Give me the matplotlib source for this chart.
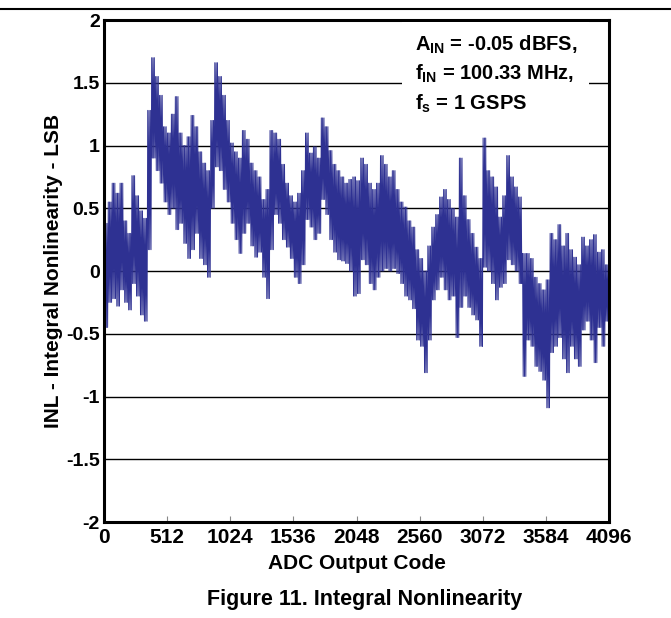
import numpy as np
import matplotlib
matplotlib.use("Agg")
import matplotlib.pyplot as plt
from matplotlib.lines import Line2D

plt.rcParams['font.family'] = ['Liberation Sans', 'DejaVu Sans']
plt.rcParams['font.weight'] = 'bold'
plt.rcParams['mathtext.fontset'] = 'custom'
plt.rcParams['mathtext.rm'] = 'Liberation Sans:bold'
plt.rcParams['mathtext.bf'] = 'Liberation Sans:bold'

# INL envelope, one pair per 32-code bin (LSB)
bin_width = 32
inl_high = [
    0.38, 0.55, 0.70, 0.62, 0.70, 0.40, 0.30, 0.76, 0.60, 0.48,
    0.42, 1.28, 1.70, 1.55, 1.40, 1.15, 1.10, 1.25, 1.39, 1.10,
    1.00, 1.07, 1.24, 1.15, 0.95, 0.86, 0.80, 1.20, 1.66, 1.55,
    1.40, 1.20, 1.02, 0.95, 0.90, 1.12, 1.05, 0.86, 0.80, 0.75,
    0.57, 0.65, 1.12, 1.10, 1.05, 0.85, 0.70, 0.60, 0.55, 0.62,
    0.80, 1.10, 0.94, 0.99, 0.90, 1.22, 1.15, 0.96, 0.85, 0.80,
    0.75, 0.70, 0.73, 0.75, 0.72, 0.90, 0.85, 0.70, 0.65, 0.70,
    0.92, 0.85, 0.75, 0.80, 0.65, 0.55, 0.51, 0.40, 0.35, 0.17,
    0.10, 0.00, 0.20, 0.35, 0.45, 0.59, 0.65, 0.57, 0.50, 0.43,
    0.90, 0.60, 0.41, 0.30, 0.19, 0.10, 1.06, 0.80, 0.75, 0.67,
    0.43, 0.60, 0.92, 0.75, 0.67, 0.59, 0.14, 0.14, 0.10, -0.05,
    -0.10, -0.15, -0.07, 0.30, 0.25, 0.37, 0.20, 0.30, 0.17, 0.11,
    0.05, 0.27, 0.20, 0.25, 0.29, 0.15, 0.17, 0.05,
]
inl_low = [
    -0.45, -0.25, -0.22, -0.28, -0.15, -0.25, -0.31, -0.10, -0.20, -0.35,
    -0.40, 0.17, 0.90, 0.80, 0.70, 0.55, 0.45, 0.50, 0.33, 0.38,
    0.22, 0.10, 0.17, 0.30, 0.10, 0.05, -0.05, 0.50, 0.83, 0.80,
    0.65, 0.55, 0.38, 0.25, 0.14, 0.30, 0.38, 0.20, 0.11, 0.15,
    -0.05, -0.22, 0.17, 0.45, 0.38, 0.25, 0.19, 0.10, -0.05, -0.10,
    0.05, 0.41, 0.35, 0.25, 0.30, 0.57, 0.45, 0.25, 0.15, 0.09,
    0.08, 0.06, 0.00, -0.20, -0.18, 0.09, 0.05, -0.10, -0.15, -0.05,
    0.00, 0.02, 0.00, 0.02, -0.02, -0.10, -0.20, -0.23, -0.30, -0.55,
    -0.60, -0.81, -0.55, -0.23, -0.15, -0.05, -0.15, -0.23, -0.20, -0.53,
    -0.29, -0.20, -0.29, -0.35, -0.39, -0.60, 0.03, 0.00, -0.10, -0.23,
    -0.13, -0.10, 0.09, 0.05, 0.00, -0.10, -0.84, -0.55, -0.60, -0.76,
    -0.80, -0.87, -1.09, -0.65, -0.60, -0.53, -0.70, -0.81, -0.60, -0.70,
    -0.76, -0.47, -0.40, -0.55, -0.73, -0.45, -0.60, -0.40,
]

x_ticks = [0, 512, 1024, 1536, 2048, 2560, 3072, 3584, 4096]
y_ticks = [-2, -1.5, -1, -0.5, 0, 0.5, 1, 1.5, 2]
y_tick_labels = ['-2', '-1.5', '-1', '-0.5', '0', '0.5', '1', '1.5', '2']

# trace: swing between the high and low value a few times inside each bin
swings = 3
starts = np.arange(len(inl_high)) * bin_width
step = bin_width / (2 * swings)
codes = (starts[:, None] + step * (np.arange(2 * swings) + 0.5)).ravel()
inl = np.column_stack([inl_high, inl_low] * swings).ravel()

fig = plt.figure(figsize=(6.71, 6.18), dpi=100)
ax = fig.add_axes([0.155, 0.1553, 0.7526, 0.8123])

for yv in y_ticks[1:-1]:
    ax.axhline(yv, color='black', lw=1.0, zorder=1)

ax.plot(codes, inl, color='#2e3192', lw=0.7, zorder=2)

ax.set_xlim(0, 4096)
ax.set_ylim(-2, 2)
ax.set_xticks(x_ticks)
ax.set_yticks(y_ticks)
ax.set_yticklabels(y_tick_labels)
ax.tick_params(axis='x', direction='in', length=4, width=0.8, color='#888888',
               labelsize=15, pad=4)
ax.tick_params(axis='y', length=0, labelsize=14, pad=3)
for s in ax.spines.values():
    s.set_linewidth(2.2)
    s.set_color('black')

ax.set_xlabel('ADC Output Code', fontsize=15, fontweight='bold', labelpad=5)
ax.set_ylabel('INL - Integral Nonlinearity - LSB', fontsize=15, fontweight='bold', labelpad=2)

ax.text(0.615, 0.972,
        'A$_{\\rm IN}$ = -0.05 dBFS,\nf$_{\\rm IN}$ = 100.33 MHz,\nf$_{\\rm s}$ = 1 GSPS',
        transform=ax.transAxes, ha='left', va='top', fontsize=14.5, fontweight='bold',
        linespacing=1.4, zorder=5,
        bbox=dict(boxstyle='square,pad=0.6', facecolor='white', edgecolor='none'))

fig.add_artist(Line2D([0, 1], [1 - 9 / 618, 1 - 9 / 618], color='black', lw=1.5))
fig.text(0.543, 1 - 600 / 618, 'Figure 11. Integral Nonlinearity',
         ha='center', va='center', fontsize=15.5, fontweight='bold')

fig.savefig('out.png', dpi=100)
